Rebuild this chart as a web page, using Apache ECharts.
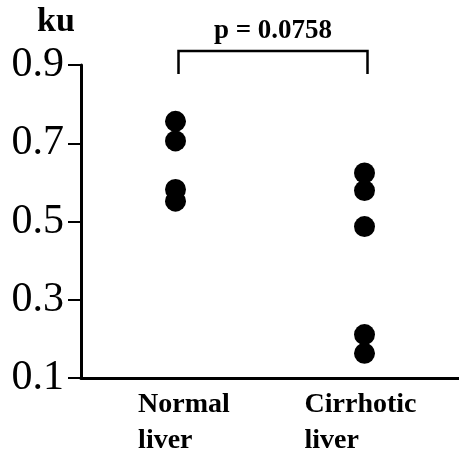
<!DOCTYPE html>
<html>
<head>
<meta charset="utf-8">
<script src="https://cdn.jsdelivr.net/npm/echarts@6/dist/echarts.min.js"></script>
<style>
  html, body { margin: 0; padding: 0; background: #fff; }
  #chart { width: 459px; height: 455px; }
</style>
</head>
<body>
<div id="chart"></div>
<script>
// groups on the x axis
var groups = ["Normal\nliver", "Cirrhotic\nliver"];
// ku values
var normalLiver = [0.756, 0.706, 0.582, 0.552];
var cirrhoticLiver = [0.624, 0.579, 0.487, 0.211, 0.163];
// y axis
var yMin = 0.1;
var yMax = 0.9;
var yStep = 0.2;
// significance bracket
var bracketTop = 0.936;
var bracketFoot = 0.877;
var pText = "p = 0.0758";

var serif = "Liberation Serif";

var chart = echarts.init(document.getElementById("chart"));

var pointData = [];
normalLiver.forEach(function(v) { pointData.push([0, v]); });
cirrhoticLiver.forEach(function(v) { pointData.push([1, v]); });

// nudge each group label so its left edge sits like the original
var labelPads = [[0, 0, 0, 17], [0, 8, 0, 0]];
var xData = groups.map(function(g, i) {
  return { value: g, textStyle: { padding: labelPads[i] } };
});

var option = {
  animation: false,
  grid: {
    left: 81,
    right: -2,
    top: 65,
    bottom: 74
  },
  xAxis: {
    type: "category",
    data: xData,
    boundaryGap: true,
    axisLine: { show: true, lineStyle: { color: "#000", width: 3 } },
    axisTick: { show: false },
    axisLabel: {
      interval: 0,
      margin: 9,
      formatter: function(val) {
        return val.split("\n").map(function(s) { return "{t|" + s + "}"; }).join("\n");
      },
      rich: {
        t: {
          fontFamily: serif,
          fontWeight: "bold",
          fontSize: 28,
          lineHeight: 36,
          color: "#000",
          align: "left"
        }
      }
    },
    splitLine: { show: false }
  },
  yAxis: {
    type: "value",
    min: yMin,
    max: yMax,
    interval: yStep,
    name: "ku",
    nameLocation: "end",
    nameGap: 26,
    nameTextStyle: {
      fontFamily: serif,
      fontWeight: "bold",
      fontSize: 34,
      color: "#000",
      verticalAlign: "bottom",
      padding: [0, 50, 0, 0]
    },
    axisLine: { show: true, lineStyle: { color: "#000", width: 3 } },
    axisTick: { show: true, inside: false, length: 13, lineStyle: { color: "#000", width: 2 } },
    axisLabel: {
      margin: 17,
      fontFamily: serif,
      fontSize: 42,
      color: "#000",
      formatter: function(v) { return v.toFixed(1); }
    },
    splitLine: { show: false }
  },
  series: [
    {
      type: "scatter",
      symbol: "circle",
      symbolSize: 21,
      itemStyle: { color: "#000", opacity: 1 },
      data: pointData
    },
    {
      type: "custom",
      clip: false,
      data: [[0, 1]],
      renderItem: function(params, api) {
        var a = api.coord([0, bracketFoot]);
        var b = api.coord([0, bracketTop]);
        var c = api.coord([1, bracketTop]);
        var d = api.coord([1, bracketFoot]);
        return {
          type: "group",
          x: 3,
          children: [
            {
              type: "polyline",
              shape: { points: [a, b, c, d] },
              style: { stroke: "#000", lineWidth: 2.5, fill: null }
            },
            {
              type: "text",
              style: {
                text: pText,
                x: (b[0] + c[0]) / 2,
                y: b[1] - 6,
                align: "center",
                verticalAlign: "bottom",
                font: "bold 27px " + serif,
                fill: "#000"
              }
            }
          ]
        };
      }
    }
  ]
};
chart.setOption(option);
</script>
</body>
</html>
